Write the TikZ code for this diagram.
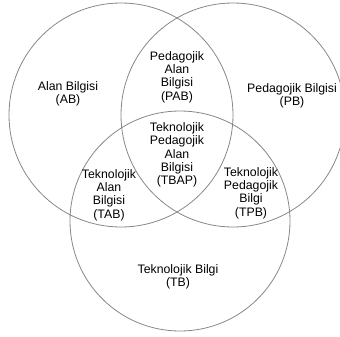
\documentclass[tikz,border=0pt]{standalone}
\usepackage{xcolor}
\usepackage{fontspec}
\setmainfont{Liberation Sans}
\usepackage{tikz}
\definecolor{vennline}{RGB}{135,135,135}
\tikzset{lbl/.style={align=center,inner sep=0pt,font=\fontsize{12.3}{13.4}\selectfont}}

\begin{document}
\begin{tikzpicture}[x=1pt,y=-1pt,draw=vennline,line width=0.8pt]
    \useasboundingbox (0,0) rectangle (340,337);
    \draw (121,115) circle (112pt);
    \draw (233,115) circle (112pt);
    \draw (180,221) circle (110pt);
    \node[lbl] (ab) at (68,94) {Alan Bilgisi\\(AB)};
    \node[lbl] (pb) at (292,96) {Pedagojik Bilgisi\\(PB)};
    \node[lbl] (pab) at (177,77) {Pedagojik\\Alan\\Bilgisi\\(PAB)};
    \node[lbl] (tbap) at (177,155) {Teknolojik\\Pedagojik\\Alan\\Bilgisi\\(TBAP)};
    \node[lbl] (tab) at (109,195) {Teknolojik\\Alan\\Bilgisi\\(TAB)};
    \node[lbl] (tpb) at (251,193) {Teknolojik\\Pedagojik\\Bilgi\\(TPB)};
    \node[lbl] (tb) at (178,277) {Teknolojik Bilgi\\(TB)};
  \end{tikzpicture}
\end{document}
